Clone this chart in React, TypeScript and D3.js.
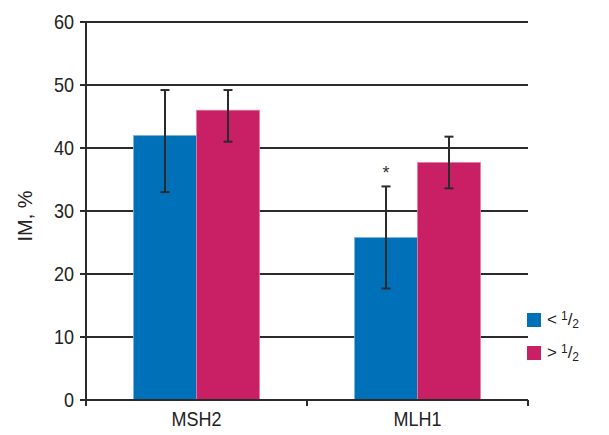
import React from "react";
import * as d3 from "d3";

const categories = ["MSH2", "MLH1"];
const seriesNames = ["lt", "gt"];
const values = [
  [42, 46],
  [25.8, 37.7],
];
const errLow = [
  [33, 41],
  [17.7, 33.6],
];
const errHigh = [
  [49.2, 49.2],
  [33.9, 41.8],
];
const yTicks = [0, 10, 20, 30, 40, 50, 60];
const colors = ["#0071b9", "#c81f65"];
const edgeColors = ["#7fb4dc", "#e07ca5"];

const W = 609;
const H = 435;
const left = 86;
const right = 528;
const top = 22;
const bottom = 400;
const font = "'Liberation Sans', Arial, sans-serif";

function NText(props: {
  x: number;
  y: number;
  anchor?: string;
  size: number;
  sx?: number;
  dy?: string;
  children: React.ReactNode;
}) {
  const { x, y, anchor = "start", size, sx = 0.9, dy, children } = props;
  return (
    <g transform={`translate(${x},${y}) scale(${sx},1)`}>
      <text x={0} y={0} dy={dy} textAnchor={anchor} fontFamily={font} fontSize={size} fill="#222">
        {children}
      </text>
    </g>
  );
}

export default function App() {
  const y = d3.scaleLinear().domain([0, 60]).range([bottom, top]);
  const x0 = d3.scaleBand().domain(categories).range([left, right]).paddingInner(0).paddingOuter(0);
  const groupW = 126;
  const x1 = d3.scaleBand().domain(seriesNames).range([0, groupW]);
  const ink = "#2b2b2b";
  return (
    <svg width={W} height={H} style={{ position: "absolute", left: 0, top: 0, background: "#fff" }}>
      {yTicks.map((t) => (
        <g key={t}>
          {t > 0 && (
            <line x1={left} x2={right} y1={y(t)} y2={y(t)} stroke={ink} strokeWidth={2} />
          )}
          <line x1={left - 6} x2={left} y1={y(t)} y2={y(t)} stroke={ink} strokeWidth={2} />
          <NText x={74} y={y(t)} dy="0.36em" anchor="end" size={20}>
            {t}
          </NText>
        </g>
      ))}
      {categories.map((c, i) => {
        const gx = x0(c)! + x0.bandwidth() / 2 - groupW / 2;
        return (
          <g key={c}>
            {seriesNames.map((s, j) => {
              const bx = gx + x1(s)!;
              const v = values[i][j];
              return (
                <rect
                  key={s}
                  x={bx}
                  y={y(v)}
                  width={x1.bandwidth()}
                  height={bottom - y(v)}
                  fill={colors[j]}
                  stroke={edgeColors[j]}
                  strokeWidth={0.8}
                />
              );
            })}
          </g>
        );
      })}
      {categories.map((c, i) => {
        const gx = x0(c)! + x0.bandwidth() / 2 - groupW / 2;
        return (
          <g key={c + "e"}>
            {seriesNames.map((s, j) => {
              const cx = gx + x1(s)! + x1.bandwidth() / 2;
              const lo = y(errLow[i][j]);
              const hi = y(errHigh[i][j]);
              return (
                <g key={s} stroke={ink} strokeWidth={2}>
                  <line x1={cx} x2={cx} y1={lo} y2={hi} />
                  <line x1={cx - 4.5} x2={cx + 4.5} y1={lo} y2={lo} />
                  <line x1={cx - 4.5} x2={cx + 4.5} y1={hi} y2={hi} />
                </g>
              );
            })}
          </g>
        );
      })}
      <text
        x={x0("MLH1")! + x0.bandwidth() / 2 - groupW / 2 + x1("lt")! + x1.bandwidth() / 2}
        y={y(errHigh[1][0]) - 7}
        textAnchor="middle"
        fontFamily={font}
        fontSize={18}
        fill="#333"
      >
        *
      </text>
      <line x1={left} x2={left} y1={top - 1} y2={bottom + 6} stroke={ink} strokeWidth={2} />
      <line x1={left - 6} x2={right} y1={bottom} y2={bottom} stroke={ink} strokeWidth={2} />
      {[left, x0("MLH1")!, right].map((t, k) => (
        <line key={k} x1={t} x2={t} y1={bottom} y2={bottom + 6} stroke={ink} strokeWidth={2} />
      ))}
      {categories.map((c) => (
        <NText key={c} x={x0(c)! + x0.bandwidth() / 2} y={426} anchor="middle" size={20}>
          {c}
        </NText>
      ))}
      <g transform={`translate(32, ${216}) rotate(-90)`}>
        <NText x={0} y={0} anchor="middle" size={20} sx={1}>
          IM, %
        </NText>
      </g>
      {[0, 1].map((k) => {
        const ly = 313 + k * 33;
        return (
          <g key={k}>
            <rect x={527} y={ly} width={14} height={14} fill={colors[k]} />
            <text x={547} y={ly + 12} fontFamily={font} fontSize={17} fill="#222">
              {k === 0 ? "<" : ">"}
              <tspan dx={4} dy={-5} fontSize={12}>1</tspan>
              <tspan dy={5}>/</tspan>
              <tspan dy={3} fontSize={12}>2</tspan>
            </text>
          </g>
        );
      })}
    </svg>
  );
}
